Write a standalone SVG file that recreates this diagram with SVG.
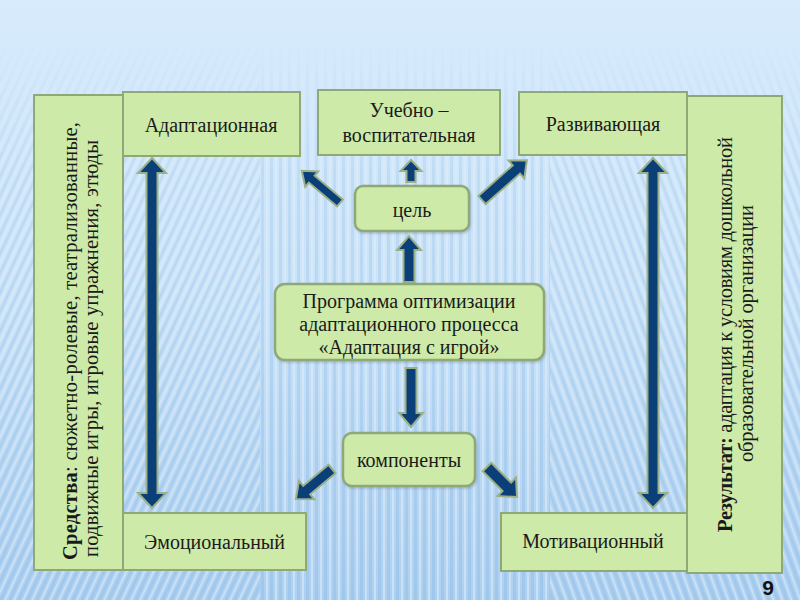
<svg xmlns="http://www.w3.org/2000/svg" width="800" height="600" viewBox="0 0 800 600">
<defs>
<linearGradient id="bg" x1="0" y1="0" x2="0" y2="1">
<stop offset="0" stop-color="#d7ebfc"/>
<stop offset="0.5" stop-color="#cbe3f8"/>
<stop offset="1" stop-color="#aed0f0"/>
</linearGradient>
<linearGradient id="fade" x1="0" y1="0" x2="0" y2="1">
<stop offset="0" stop-color="#fff" stop-opacity="0"/>
<stop offset="0.07" stop-color="#fff" stop-opacity="0"/>
<stop offset="0.3" stop-color="#fff" stop-opacity="0.55"/>
<stop offset="1" stop-color="#fff" stop-opacity="1"/>
</linearGradient>
<mask id="m"><rect width="800" height="600" fill="url(#fade)"/></mask>
<pattern id="stripes" width="9" height="20" patternUnits="userSpaceOnUse">
<rect x="0" y="0" width="3" height="20" fill="#8fbce6" opacity="0.45"/>
<rect x="5" y="0" width="2" height="20" fill="#ffffff" opacity="0.35"/>
</pattern>
<pattern id="stripesL" width="9" height="20" patternUnits="userSpaceOnUse" patternTransform="skewX(-25)">
<rect x="0" y="0" width="3" height="20" fill="#8fbce6" opacity="0.45"/>
<rect x="5" y="0" width="2" height="20" fill="#ffffff" opacity="0.35"/>
</pattern>
<pattern id="stripesR" width="9" height="20" patternUnits="userSpaceOnUse" patternTransform="skewX(20)">
<rect x="0" y="0" width="3" height="20" fill="#8fbce6" opacity="0.45"/>
<rect x="5" y="0" width="2" height="20" fill="#ffffff" opacity="0.35"/>
</pattern>
<filter id="sh" x="-10%" y="-10%" width="130%" height="130%">
<feDropShadow dx="1" dy="1.5" stdDeviation="1.2" flood-color="#5a7090" flood-opacity="0.35"/>
</filter>
</defs>
<style>
.box{fill:#cdeaa9;stroke:#8ea878;stroke-width:2}
.rbox{fill:#cdeaa9;stroke:#8ea878;stroke-width:2.5}
.arr{fill:#0b3f78;stroke:#9cb088;stroke-width:2;stroke-linejoin:miter}
text{font-family:"Liberation Serif","Times New Roman",serif;fill:#1a1a1a}
.t{font-size:20px;text-anchor:middle}
.tp{font-size:20px;text-anchor:middle}
.v{font-size:20.5px;text-anchor:middle}
.b{font-weight:bold}
</style>
<rect width="800" height="600" fill="url(#bg)"/>
<g mask="url(#m)">
<rect x="0" y="0" width="260" height="600" fill="url(#stripesL)"/>
<rect x="260" y="0" width="290" height="600" fill="url(#stripes)"/>
<rect x="550" y="0" width="250" height="600" fill="url(#stripesR)"/>
</g>

<g id="connectors">
<polygon class="arr" points="152,158 166,173 157.5,173 157.5,493 166,493 152,508 138,493 146.5,493 146.5,173 138,173"/>
<polygon class="arr" points="653,158 667,173 658.5,173 658.5,493 667,493 653,508 639,493 647.5,493 647.5,173 639,173"/>
<g transform="translate(409,282) rotate(-90)"><polygon class="arr" points="0,-5.5 32,-5.5 32,-12 46,0 32,12 32,5.5 0,5.5"/></g>
<g transform="translate(411,182) rotate(-90)"><polygon class="arr" points="0,-4.5 11,-4.5 11,-10.5 22,0 11,10.5 11,4.5 0,4.5"/></g>
<g transform="translate(411,368) rotate(90)"><polygon class="arr" points="0,-5.5 45,-5.5 45,-12 59,0 45,12 45,5.5 0,5.5"/></g>
<g transform="translate(340,203) rotate(220.1)"><polygon class="arr" points="0,-4.5 37,-4.5 37,-10 50,0 37,10 37,4.5 0,4.5"/></g>
<g transform="translate(482,200) rotate(-41.6)"><polygon class="arr" points="0,-5.5 46,-5.5 46,-12 60,0 46,12 46,5.5 0,5.5"/></g>
<g transform="translate(332,469) rotate(140.2)"><polygon class="arr" points="0,-5.5 33,-5.5 33,-12 47,0 33,12 33,5.5 0,5.5"/></g>
<g transform="translate(487,467) rotate(45)"><polygon class="arr" points="0,-6 28,-6 28,-13 42.5,0 28,13 28,6 0,6"/></g>
</g>

<g id="sredstva">
<rect class="box" x="34" y="95" width="89" height="475"/>
<text class="v" transform="translate(77,341) rotate(-90)" textLength="438" lengthAdjust="spacing"><tspan class="b">Средства</tspan>: сюжетно-ролевые, театрализованные,</text>
<text class="v" transform="translate(98,348.5) rotate(-90)" textLength="417" lengthAdjust="spacing">подвижные игры, игровые упражнения, этюды</text>
</g>
<g id="adapt">
<rect class="box" x="123" y="92" width="177" height="64"/>
<text class="t" x="211" y="132">Адаптационная</text>
</g>
<g id="uchebno">
<rect class="box" x="318" y="90" width="182" height="65"/>
<text class="t" x="409" y="117">Учебно –</text>
<text class="t" x="409" y="142">воспитательная</text>
</g>
<g id="razv">
<rect class="box" x="519" y="92" width="168" height="63"/>
<text class="t" x="603" y="131">Развивающая</text>
</g>
<g id="result">
<rect class="box" x="687" y="96" width="95" height="477"/>
<text class="v" transform="translate(732,334.5) rotate(-90)" textLength="395" lengthAdjust="spacing"><tspan class="b">Результат: </tspan>адаптация к условиям дошкольной</text>
<text class="v" transform="translate(753,333.5) rotate(-90)" textLength="257" lengthAdjust="spacing">образовательной организации</text>
</g>
<g id="cel">
<rect class="rbox" x="355" y="186" width="114" height="45" rx="8" filter="url(#sh)"/>
<text class="t" x="412" y="217">цель</text>
</g>
<g id="programma">
<rect class="rbox" x="275" y="284" width="269" height="76" rx="10" filter="url(#sh)"/>
<text class="tp" x="409" y="308">Программа оптимизации</text>
<text class="tp" x="409" y="331">адаптационного процесса</text>
<text class="tp" x="409" y="354">«Адаптация с игрой»</text>
</g>
<g id="komp">
<rect class="rbox" x="343" y="433" width="132" height="53" rx="9" filter="url(#sh)"/>
<text class="t" x="409" y="467">компоненты</text>
</g>
<g id="emoc">
<rect class="box" x="123" y="513" width="183" height="57"/>
<text class="t" x="214.5" y="549">Эмоциональный</text>
</g>
<g id="motiv">
<rect class="box" x="501" y="513" width="186" height="58"/>
<text class="t" x="593" y="548">Мотивационный</text>
</g>
<text x="768" y="595" style="font-family:'Liberation Sans',Arial,sans-serif;font-size:21px;font-weight:bold;text-anchor:middle;fill:#111">9</text>
</svg>
